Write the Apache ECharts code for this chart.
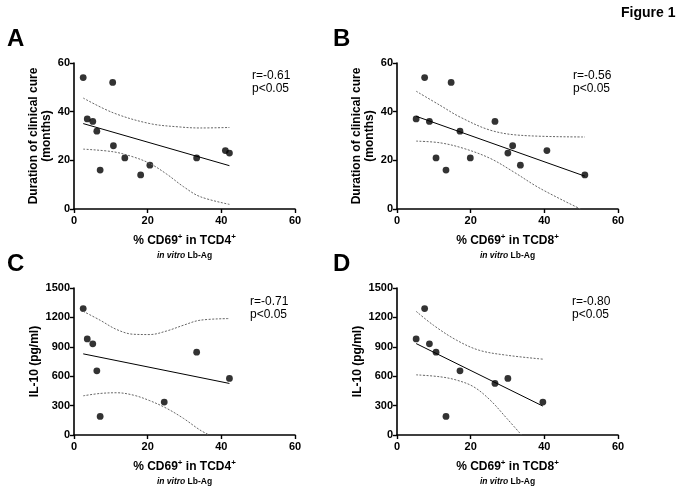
<!DOCTYPE html>
<html><head><meta charset="utf-8">
<script src="https://cdn.jsdelivr.net/npm/echarts@6/dist/echarts.min.js"></script>
<style>html,body{margin:0;padding:0;background:#fff}#c{width:683px;height:493px}</style>
</head><body><div id="c"></div>
<script>
// Panel A: % CD69+ in TCD4+ vs duration of clinical cure (months)
const aX = [2.5, 3.6, 5.1, 6.2, 7.1, 10.5, 10.7, 13.8, 18.1, 20.6, 33.3, 41.1, 42.2];
const aY = [54, 37, 36, 32, 16, 52, 26, 21, 14, 18, 21, 24, 23];
const aFitX = [2.5, 42.2];
const aFitY = [35.1, 17.8];
const aUpX = [2.5, 10.7, 20.6, 28.8, 34.2, 42.2];
const aUpY = [45.6, 39.5, 35.1, 33.7, 33.3, 33.5];
const aLoX = [2.5, 10.7, 16.1, 20.6, 25.2, 29.7, 34.2, 42.2];
const aLoY = [24.6, 23.5, 21.4, 18.7, 14.3, 9.2, 5.1, 1.9];

// Panel B: % CD69+ in TCD8+ vs duration of clinical cure (months)
const bX = [5.2, 7.5, 8.8, 10.6, 13.3, 14.7, 17.1, 19.9, 26.6, 30.1, 31.4, 33.5, 40.7, 51.0];
const bY = [37, 54, 36, 21, 16, 52, 32, 21, 36, 23, 26, 18, 24, 14];
const bFitX = [5.2, 51.0];
const bFitY = [38.1, 13.5];
const bUpX = [5.2, 11.7, 17.1, 25.3, 33.4, 51.0];
const bUpY = [48.4, 42.6, 37.8, 32.4, 30.3, 29.6];
const bLoX = [5.2, 11.7, 18.1, 25.3, 31.6, 38.8, 49.8];
const bLoY = [27.9, 27.2, 24.9, 20.8, 15.3, 8.5, 0];

// Panel C: % CD69+ in TCD4+ vs IL-10 (pg/ml)
const cX = [2.5, 3.6, 5.1, 6.2, 7.1, 24.5, 33.3, 42.2];
const cY = [1290, 980, 930, 655, 190, 336, 845, 577];
const cFitX = [2.5, 42.2];
const cFitY = [828, 526];
const cUpX = [2.5, 7.1, 11.6, 16.1, 20.6, 25.2, 29.7, 34.2, 42.2];
const cUpY = [1262, 1171, 1076, 1028, 1025, 1062, 1120, 1171, 1188];
const cLoX = [2.5, 7.1, 11.6, 16.1, 20.6, 25.2, 29.7, 34.2, 36.7];
const cLoY = [400, 424, 431, 407, 350, 271, 170, 51, 0];

// Panel D: % CD69+ in TCD8+ vs IL-10 (pg/ml)
const dX = [5.2, 7.5, 8.8, 10.6, 13.3, 17.1, 26.6, 30.1, 39.6];
const dY = [980, 1290, 930, 845, 190, 655, 526, 577, 336];
const dFitX = [5.2, 39.6];
const dFitY = [933, 295];
const dUpX = [5.2, 9.9, 16.2, 22.3, 29.8, 39.6];
const dUpY = [1262, 1120, 967, 865, 814, 774];
const dLoX = [5.2, 11.7, 16.2, 20.8, 25.3, 29.8, 33.8];
const dLoY = [614, 594, 560, 492, 356, 170, 0];

const panelLetters = ['A', 'B', 'C', 'D'];
const statR = ['r=-0.61', 'r=-0.56', 'r=-0.71', 'r=-0.80'];
const statP = ['p<0.05', 'p<0.05', 'p<0.05', 'p<0.05'];
const xTitles = ['TCD4', 'TCD8', 'TCD4', 'TCD8'];
const yTitles = ['Duration of clinical cure\n(months)', 'Duration of clinical cure\n(months)', 'IL-10 (pg/ml)', 'IL-10 (pg/ml)'];
const figureTitle = 'Figure 1';

const zip = (xs, ys) => xs.map((x, i) => [x, ys[i]]);
const FONT = 'Liberation Sans, Arial, sans-serif';

const grids = [
  {left: 74, top: 63, width: 221, height: 146},
  {left: 397, top: 63, width: 221, height: 146},
  {left: 74, top: 288, width: 221, height: 147},
  {left: 397, top: 288, width: 221, height: 147}
];
const yRanges = [[0, 60, 20], [0, 60, 20], [0, 1500, 300], [0, 1500, 300]];

const axisCommon = {
  axisLine: {lineStyle: {color: '#000', width: 1.6}},
  axisTick: {show: true, length: 4, lineStyle: {color: '#000', width: 1.4}},
  axisLabel: {color: '#000', fontWeight: 'bold', fontSize: 11, fontFamily: FONT, formatter: v => String(v)},
  splitLine: {show: false}
};

const xAxes = xTitles.map((t, i) => Object.assign({}, axisCommon, {
  type: 'value', gridIndex: i, min: 0, max: 60, interval: 20,
  axisLabel: Object.assign({}, axisCommon.axisLabel, {margin: 6}),
  name: '{b|% CD69}{sup|+}{b| in ' + t + '}{sup|+}\n{i|in vitro}{s| Lb-Ag}',
  nameLocation: 'middle', nameGap: 24,
  nameTextStyle: {
    color: '#000', fontFamily: FONT,
    rich: {
      b: {fontSize: 12, fontWeight: 'bold', fontFamily: FONT, color: '#000', lineHeight: 16},
      sup: {fontSize: 8, fontWeight: 'bold', fontFamily: FONT, color: '#000', verticalAlign: 'top', lineHeight: 16},
      i: {fontSize: 8.5, fontStyle: 'italic', fontWeight: 'bold', fontFamily: FONT, color: '#000', lineHeight: 14},
      s: {fontSize: 8.5, fontWeight: 'bold', fontFamily: FONT, color: '#000', lineHeight: 14}
    }
  }
}));

const yAxes = yTitles.map((t, i) => Object.assign({}, axisCommon, {
  type: 'value', gridIndex: i, min: yRanges[i][0], max: yRanges[i][1], interval: yRanges[i][2],
  axisLabel: Object.assign({}, axisCommon.axisLabel, {margin: 4}),
  name: t, nameLocation: 'middle', nameGap: i < 2 ? 21 : 30,
  nameTextStyle: {color: '#000', fontWeight: 'bold', fontSize: 12, fontFamily: FONT, lineHeight: 13}
}));

const panels = [
  [aX, aY, aFitX, aFitY, aUpX, aUpY, aLoX, aLoY],
  [bX, bY, bFitX, bFitY, bUpX, bUpY, bLoX, bLoY],
  [cX, cY, cFitX, cFitY, cUpX, cUpY, cLoX, cLoY],
  [dX, dY, dFitX, dFitY, dUpX, dUpY, dLoX, dLoY]
];

const series = [];
panels.forEach((p, i) => {
  const dash = {type: 'line', xAxisIndex: i, yAxisIndex: i, showSymbol: false, smooth: 0.35, silent: true,
    lineStyle: {color: '#666', width: 1, type: [2, 1.5]}};
  series.push(Object.assign({}, dash, {data: zip(p[4], p[5])}));
  series.push(Object.assign({}, dash, {data: zip(p[6], p[7])}));
  series.push({type: 'line', xAxisIndex: i, yAxisIndex: i, showSymbol: false, silent: true,
    lineStyle: {color: '#000', width: 1}, data: zip(p[2], p[3])});
  series.push({type: 'scatter', xAxisIndex: i, yAxisIndex: i, symbolSize: 6.8,
    itemStyle: {color: '#000'}, data: zip(p[0], p[1])});
});

const letterPos = [[7, 27], [333, 27], [7, 252], [333, 252]];
const statPos = [[252, 69], [573, 69], [250, 295], [572, 295]];
const graphic = [];
panelLetters.forEach((l, i) => {
  graphic.push({type: 'text', left: letterPos[i][0], top: letterPos[i][1],
    style: {text: l, font: 'bold 24px ' + FONT, fill: '#000'}});
  graphic.push({type: 'text', left: statPos[i][0], top: statPos[i][1],
    style: {text: statR[i] + '\n' + statP[i], font: '12px ' + FONT, fill: '#000', lineHeight: 13}});
});
graphic.push({type: 'text', left: 621, top: 6, style: {text: figureTitle, font: 'bold 14px ' + FONT, fill: '#000'}});

const chart = echarts.init(document.getElementById('c'));
chart.setOption({
  animation: false,
  backgroundColor: '#fff',
  grid: grids,
  xAxis: xAxes,
  yAxis: yAxes,
  series: series,
  graphic: graphic
});
</script></body></html>
